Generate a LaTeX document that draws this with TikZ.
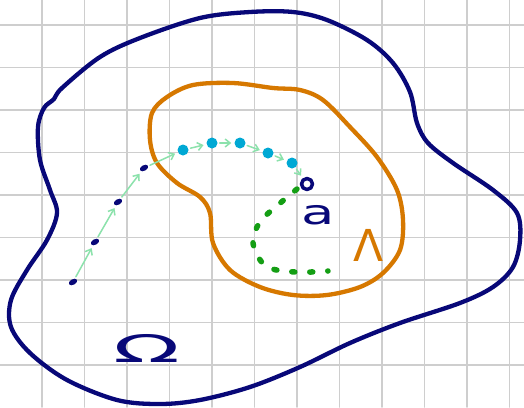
\documentclass[tikz,border=0pt]{standalone}
\usepackage{fontspec}
\usepackage{graphicx}
\newfontfamily\handfont{DejaVu Sans}
\usetikzlibrary{arrows.meta,shapes.geometric}
\definecolor{inknavy}{RGB}{8,8,120}
\definecolor{inkorange}{RGB}{214,120,0}
\definecolor{inkcyan}{RGB}{0,168,212}
\definecolor{inkmint}{RGB}{140,226,172}
\definecolor{inkgreen}{RGB}{20,158,20}
\definecolor{paper}{RGB}{206,206,206}
\tikzset{
  navydot/.style={ellipse,fill=inknavy,inner sep=0pt,minimum width=9pt,minimum height=5.5pt,rotate=30},
  cyandot/.style={circle,fill=inkcyan,inner sep=0pt,minimum size=11pt},
  hop/.style={inkmint,line width=1.5pt,->,shorten >=3pt,shorten <=2pt},
}
\begin{document}
\begin{tikzpicture}[x=1pt,y=-1pt,>={Straight Barb[length=5pt,width=8pt]},line cap=round,line join=round]
  \useasboundingbox (0,0) rectangle (524,407);
  \fill[white] (0,0) rectangle (524,407);
  % squared paper
  \foreach \x in {0,...,11} \draw[paper,line width=1.8pt] ({42+42.5*\x},0)--++(0,407);
  \foreach \y in {0,...,8} \draw[paper,line width=1.8pt] (0,{25+42.5*\y})--++(524,0);
  % outer domain
  \draw[inknavy,line width=4.3pt] plot[smooth cycle,tension=.55] coordinates {
    (62,88)(100,57)(140,38)(200,18)(250,12)(293,12)(327,20)(367,40)(393,63)
    (410,92)(417,123)(428,143)(453,163)(493,190)(517,213)(520,240)(513,267)
    (493,287)(460,303)(400,323)(350,343)(300,367)(250,387)(200,400)(160,404)
    (117,400)(67,380)(30,353)(11,327)(11,300)(27,270)(47,240)(57,213)(50,190)
    (40,160)(38,127)(44,108)(54,99)};
  % inner set
  \draw[inkorange,line width=4.3pt] plot[smooth cycle,tension=.55] coordinates {
    (152,113)(167,97)(193,85)(233,83)(273,88)(300,90)(323,100)(350,127)(377,157)
    (397,190)(403,220)(400,250)(383,273)(360,287)(327,295)(293,295)(260,287)
    (230,270)(213,243)(210,213)(200,197)(177,183)(157,163)(150,140)};
  % green dotted return path
  \draw[inkgreen,line width=5.5pt,dash pattern=on 3pt off 15pt] plot[smooth,tension=.6] coordinates {
    (297,189)(278,205)(260,222)(253,243)(266,266)(295,272)(328,271)};
  % iterates
  \node[navydot] (p0) at (73,282) {};
  \node[navydot] (p1) at (95,242) {};
  \node[navydot] (p2) at (118,202) {};
  \node[navydot] (p3) at (144,168) {};
  \node[cyandot] (p4) at (183,150) {};
  \node[cyandot] (p5) at (212,143) {};
  \node[cyandot] (p6) at (240,143) {};
  \node[cyandot] (p7) at (268,153) {};
  \node[cyandot] (p8) at (292,163) {};
  \node[circle,draw=inknavy,line width=3.5pt,inner sep=0pt,minimum size=11pt] (fix) at (307,184) {};
  \foreach \a/\b in {p0/p1,p1/p2,p2/p3,p3/p4,p4/p5,p5/p6,p6/p7,p7/p8,p8/fix}
    \draw[hop] (\a) -- (\b);
  % labels
  \node[inknavy,font=\fontsize{34}{34}\selectfont\handfont] (alab) at (318,215) {\scalebox{1.6}[1]{a}};
  \node[inkorange,font=\fontsize{44}{44}\selectfont\handfont] (lam) at (369,245) {Λ};
  \node[inknavy,font=\fontsize{38}{38}\selectfont\handfont] (om) at (147,348) {\scalebox{2.3}[1]{Ω}};
\end{tikzpicture}
\end{document}
